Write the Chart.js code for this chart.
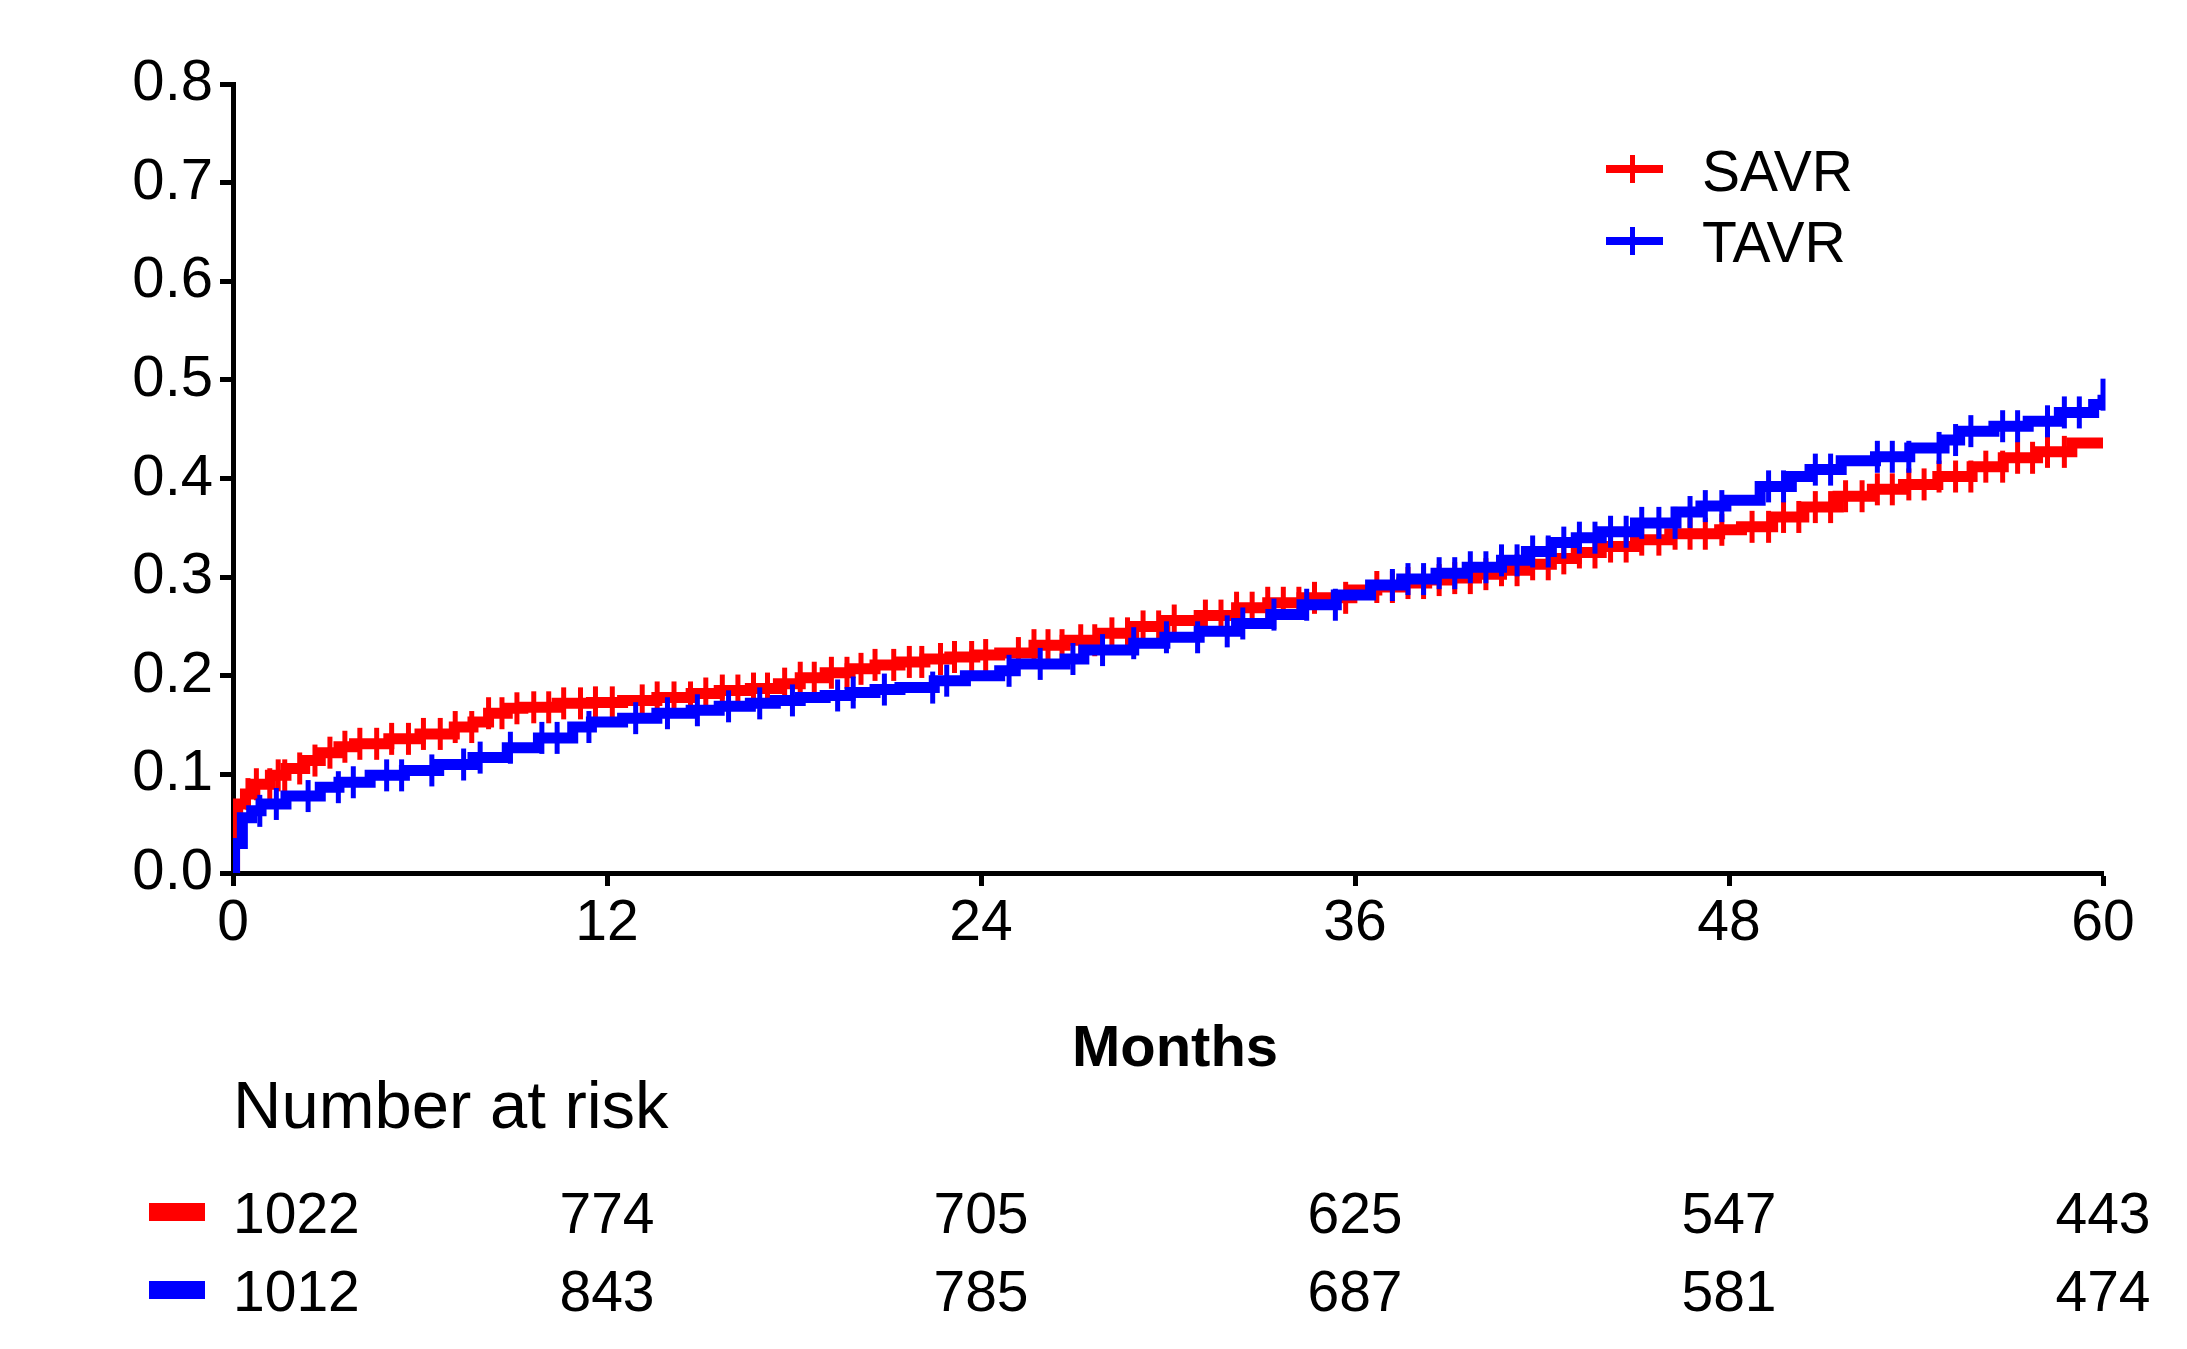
<!DOCTYPE html>
<html lang="en">
<head>
  <meta charset="UTF-8" />
  <script src="https://cdn.jsdelivr.net/npm/chart.js"></script>
  <title>SAVR vs TAVR</title>
  <style>
    body {
      margin: 0;
      padding: 0;
      background: #fff;
    }
    #wrap {
      width: 2187px;
      height: 1349px;
    }
  </style>
</head>
<body>
  <div id="wrap"><canvas id="km" width="2187" height="1349"></canvas></div>

  <script>
    // step curves (months, cumulative incidence)
    const savrMonths = [0, 0.05, 0.15, 0.4, 0.7, 1.2, 1.7, 2.3, 2.8, 3.4, 3.9, 5.0, 6.0, 7.1, 7.7, 8.2, 8.8, 9.3, 10.4, 11.5,
      12.5, 13.6, 14.7, 15.6, 16.6, 17.5, 18.2, 19.0, 19.8, 20.6, 21.4, 22.2, 23.0, 23.8, 24.6, 25.7, 26.7, 27.8, 28.9, 29.9,
      31.0, 32.2, 33.2, 34.3, 35.9, 36.7, 37.5, 38.3, 39.1, 39.9, 40.7, 41.5, 42.3, 43.1, 43.9, 45.0, 46.1, 47.7, 48.4, 49.4,
      50.4, 51.5, 52.6, 53.6, 54.7, 55.8, 56.8, 57.9, 59.0, 60.0];
    const savrValues = [0, 0.045, 0.070, 0.080, 0.090, 0.099, 0.106, 0.114, 0.122, 0.128, 0.131, 0.136, 0.141, 0.148, 0.153, 0.162, 0.167, 0.168, 0.172, 0.173,
      0.175, 0.178, 0.182, 0.185, 0.187, 0.192, 0.198, 0.203, 0.207, 0.211, 0.214, 0.217, 0.219, 0.221, 0.223, 0.231, 0.236, 0.243, 0.250, 0.256,
      0.261, 0.269, 0.274, 0.279, 0.287, 0.290, 0.294, 0.297, 0.299, 0.303, 0.307, 0.313, 0.319, 0.325, 0.331, 0.338, 0.344, 0.348, 0.351, 0.361,
      0.371, 0.382, 0.389, 0.394, 0.402, 0.412, 0.421, 0.427, 0.436, 0.436];

    const tavrMonths = [0, 0.05, 0.3, 0.6, 0.9, 1.7, 2.8, 3.4, 4.4, 5.5, 6.6, 7.7, 8.8, 9.8, 10.9, 11.5, 12.5, 13.6, 14.7, 15.6,
      16.6, 17.4, 18.2, 19.0, 19.8, 20.6, 21.4, 22.5, 23.5, 24.6, 25.1, 26.7, 27.3, 28.9, 29.9, 31.0, 32.2, 33.3, 34.3, 35.4,
      36.5, 37.5, 38.6, 39.6, 40.7, 41.5, 42.3, 43.1, 43.9, 45.0, 46.3, 47.1, 47.9, 49.0, 50.0, 50.6, 51.6, 52.7, 53.8, 54.9,
      55.4, 56.5, 57.6, 58.6, 59.7, 60.0];
    const tavrValues = [0, 0.030, 0.056, 0.063, 0.070, 0.078, 0.087, 0.092, 0.099, 0.104, 0.110, 0.117, 0.127, 0.137, 0.148, 0.153, 0.157, 0.162, 0.165, 0.169,
      0.172, 0.175, 0.178, 0.180, 0.183, 0.186, 0.188, 0.195, 0.200, 0.205, 0.212, 0.217, 0.226, 0.233, 0.239, 0.245, 0.253, 0.262, 0.272, 0.282,
      0.292, 0.298, 0.304, 0.310, 0.317, 0.326, 0.335, 0.340, 0.346, 0.355, 0.366, 0.372, 0.378, 0.392, 0.402, 0.409, 0.418, 0.422, 0.431, 0.439,
      0.448, 0.453, 0.458, 0.467, 0.475, 0.485];

    // censor marks (months)
    const savrCensored = [0.48, 0.75, 1.18, 1.45, 1.66, 2.14, 2.63, 3.11, 3.59, 4.07, 4.61, 5.09, 5.63, 6.11, 6.65, 7.13, 7.66, 8.2, 8.63, 9.11,
      9.65, 10.13, 10.61, 11.15, 11.63, 12.17, 13.13, 13.61, 14.15, 14.68, 15.17, 15.7, 16.2, 16.7, 17.15, 17.7, 18.2, 18.65, 19.2, 19.7,
      20.15, 20.6, 21.2, 21.7, 22.1, 22.7, 23.15, 23.7, 24.15, 25.2, 25.7, 26.15, 26.6, 27.2, 27.65, 28.2, 28.7, 29.2, 29.7, 30.2,
      31.2, 31.7, 32.2, 32.7, 33.2, 33.7, 34.2, 34.7, 35.7, 36.7, 37.2, 37.7, 38.2, 38.7, 39.2, 39.7, 40.2, 40.7, 41.2, 41.7,
      42.2, 42.7, 43.2, 43.7, 44.2, 44.7, 45.2, 45.75, 46.27, 46.75, 47.24, 47.77, 48.74, 49.27, 49.75, 50.24, 50.77, 51.26, 51.74, 52.27,
      52.76, 53.24, 53.77, 54.26, 54.74, 55.27, 55.76, 56.24, 56.78, 57.26, 57.74, 58.22, 58.76];
    const tavrCensored = [0.86, 1.39, 2.41, 3.38, 3.86, 4.93, 5.41, 6.38, 7.4, 7.93, 8.9, 9.91, 10.4, 11.42, 12.92, 13.94, 14.9, 15.9, 16.9, 17.95,
      19.4, 19.9, 20.9, 22.45, 22.9, 24.9, 25.9, 26.95, 27.9, 28.9, 29.95, 30.95, 31.9, 32.4, 33.4, 34.45, 35.37, 37.2, 37.7, 38.2,
      38.7, 39.2, 39.7, 40.2, 40.7, 41.2, 41.7, 42.2, 42.7, 43.2, 43.7, 44.2, 44.7, 45.2, 45.75, 46.27, 46.75, 47.24, 47.77, 49.27,
      49.75, 50.77, 51.26, 52.76, 53.24, 53.77, 54.74, 55.27, 55.76, 56.78, 57.26, 58.22, 58.76, 59.24, 60.0];

    const xTicks = [0, 12, 24, 36, 48, 60];
    const yTicks = [0, 0.1, 0.2, 0.3, 0.4, 0.5, 0.6, 0.7, 0.8];

    // number at risk
    const riskMonths = [0, 12, 24, 36, 48, 60];
    const riskSAVR = [1022, 774, 705, 625, 547, 443];
    const riskTAVR = [1012, 843, 785, 687, 581, 474];

    const RED = '#ff0000';
    const BLUE = '#0000ff';
    const FONT = '"Liberation Sans", Arial, sans-serif';

    function toPoints(ts, ys) {
      return ts.map((t, i) => ({ x: t, y: ys[i] }));
    }

    // censor mark sits on the step curve at its time
    function onCurve(ts, ys, marks) {
      return marks.map(t => {
        let v = 0;
        for (let i = 0; i < ts.length; i++) if (ts[i] <= t) v = ys[i];
        return { x: t, y: v };
      });
    }

    const extras = {
      id: 'extras',
      afterDraw(chart) {
        const ctx = chart.ctx;
        const xs = chart.scales.x;
        const left = chart.chartArea.left;
        ctx.save();

        // legend
        const legend = [['SAVR', RED, 169, 191], ['TAVR', BLUE, 241, 262]];
        legend.forEach(([name, col, ly, base]) => {
          ctx.fillStyle = col;
          ctx.fillRect(1606, ly - 4, 57, 8);
          ctx.fillRect(1630, ly - 14, 5, 28);
          ctx.fillStyle = '#000';
          ctx.font = '57px ' + FONT;
          ctx.textAlign = 'left';
          ctx.textBaseline = 'alphabetic';
          ctx.fillText(name, 1702, base);
        });

        // axis title
        ctx.fillStyle = '#000';
        ctx.font = 'bold 58px ' + FONT;
        ctx.textAlign = 'center';
        ctx.fillText('Months', 1175, 1066);

        // number at risk table
        ctx.font = '67px ' + FONT;
        ctx.textAlign = 'left';
        ctx.fillText('Number at risk', left, 1128);

        const rows = [[riskSAVR, RED, 1212, 1233], [riskTAVR, BLUE, 1290, 1311]];
        rows.forEach(([vals, col, by, base]) => {
          ctx.fillStyle = col;
          ctx.fillRect(149, by - 9, 56, 18);
          ctx.fillStyle = '#000';
          ctx.font = '57px ' + FONT;
          vals.forEach((v, i) => {
            if (i === 0) {
              ctx.textAlign = 'left';
              ctx.fillText(String(v), left, base);
            } else {
              ctx.textAlign = 'center';
              ctx.fillText(String(v), xs.getPixelForValue(riskMonths[i]), base);
            }
          });
        });
        ctx.restore();
      }
    };

    new Chart(document.getElementById('km'), {
      type: 'scatter',
      data: {
        datasets: [
          {
            label: 'SAVR',
            data: toPoints(savrMonths, savrValues),
            showLine: true,
            stepped: true,
            borderColor: RED,
            borderWidth: 11,
            pointRadius: 0,
            order: 4
          },
          {
            label: 'SAVR censored',
            data: onCurve(savrMonths, savrValues, savrCensored),
            showLine: false,
            pointStyle: 'line',
            rotation: 90,
            pointRadius: 16,
            borderColor: RED,
            borderWidth: 5,
            clip: false,
            order: 3
          },
          {
            label: 'TAVR',
            data: toPoints(tavrMonths, tavrValues),
            showLine: true,
            stepped: true,
            borderColor: BLUE,
            borderWidth: 11,
            pointRadius: 0,
            order: 2
          },
          {
            label: 'TAVR censored',
            data: onCurve(tavrMonths, tavrValues, tavrCensored),
            showLine: false,
            pointStyle: 'line',
            rotation: 90,
            pointRadius: 16,
            borderColor: BLUE,
            borderWidth: 5,
            clip: false,
            order: 1
          }
        ]
      },
      options: {
        responsive: false,
        animation: false,
        devicePixelRatio: 1,
        layout: { padding: { left: 0, top: 84, right: 84, bottom: 0 } },
        plugins: {
          legend: { display: false },
          tooltip: { enabled: false }
        },
        scales: {
          x: {
            type: 'linear',
            min: 0,
            max: 60,
            afterFit: s => { s.height = 476; },
            afterBuildTicks: s => { s.ticks = xTicks.map(v => ({ value: v })); },
            grid: { drawOnChartArea: false, drawTicks: true, tickLength: 13, tickWidth: 5, tickColor: '#000' },
            border: { display: true, color: '#000', width: 5 },
            ticks: { color: '#000', padding: 4, maxRotation: 0, font: { family: FONT, size: 57 } }
          },
          y: {
            type: 'linear',
            min: 0,
            max: 0.8,
            afterFit: s => { s.width = 233; },
            afterBuildTicks: s => { s.ticks = yTicks.map(v => ({ value: v })); },
            grid: { drawOnChartArea: false, drawTicks: true, tickLength: 13, tickWidth: 5, tickColor: '#000' },
            border: { display: true, color: '#000', width: 5 },
            ticks: {
              color: '#000',
              padding: 7,
              font: { family: FONT, size: 58 },
              callback: v => v.toFixed(1)
            }
          }
        }
      },
      plugins: [extras]
    });
  </script>
</body>
</html>
